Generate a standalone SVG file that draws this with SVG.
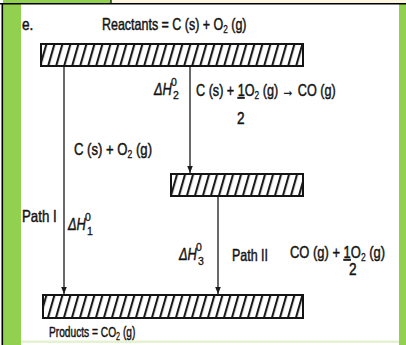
<svg xmlns="http://www.w3.org/2000/svg" width="406" height="345" viewBox="0 0 406 345">
<defs>
<pattern id="hatch" patternUnits="userSpaceOnUse" width="8" height="40" patternTransform="skewX(-16)">
<rect x="0" y="0" width="8" height="40" fill="#fff"/>
<rect x="2" y="0" width="2.2" height="40" fill="#1a1a1a"/>
</pattern>
<marker id="arr" viewBox="0 0 10 10" refX="10" refY="5" markerWidth="7" markerHeight="7" orient="auto" markerUnits="userSpaceOnUse">
<path d="M0,1 L10,5 L0,9 Z" fill="#1a1a1a"/>
</marker>
<style>
.t{font-family:"Liberation Sans",Arial,sans-serif;font-size:16px;fill:#141414;stroke:#141414;stroke-width:0.45}
.s{font-size:10.5px;stroke-width:0.3}
.bar{fill:url(#hatch);stroke:#141414;stroke-width:2}
.ln{stroke:#1a1a1a;stroke-width:1.3;fill:none}
.it{font-style:italic}
</style>
</defs>
<rect width="406" height="345" fill="#fff"/>
<rect x="111" y="0" width="295" height="3.5" fill="#fdf6e1"/>
<rect x="3" y="0" width="108" height="3.5" fill="#92d050"/>
<rect x="3" y="3.5" width="18" height="341.5" fill="#92d050"/>
<rect x="399" y="3.5" width="7" height="341.5" fill="#92d050"/>
<rect x="21" y="340.5" width="378" height="2.5" fill="#e4f2d2"/>
<line x1="0" y1="3.7" x2="406" y2="3.7" stroke="#000" stroke-width="1.4"/>
<line x1="111" y1="0" x2="111" y2="3.7" stroke="#000" stroke-width="1.2"/>
<line x1="2.3" y1="3" x2="2.3" y2="345" stroke="#000" stroke-width="1.6"/>

<g id="connectors">
<line class="ln" x1="64" y1="66" x2="64" y2="294" marker-end="url(#arr)"/>
<line class="ln" x1="190" y1="66" x2="190" y2="173" marker-end="url(#arr)"/>
<line class="ln" x1="218" y1="196" x2="218" y2="294" marker-end="url(#arr)"/>
</g>

<g id="reactants">
<rect class="bar" x="41" y="44" width="262" height="22"/>
<text class="t" transform="translate(102,30) scale(0.78,1)">Reactants = C (s) + O<tspan class="s" dy="3">2</tspan><tspan dy="-3"> (g)</tspan></text>
</g>

<g id="intermediate">
<rect class="bar" x="171" y="174" width="132" height="22"/>
</g>

<g id="products">
<rect class="bar" x="43" y="295" width="260" height="23"/>
<text class="t" style="font-size:15px" transform="translate(49,337) scale(0.68,1)">Products = CO<tspan class="s" dy="3">2</tspan><tspan dy="-3"> (g)</tspan></text>
</g>

<g id="labels">
<text class="t" transform="translate(22,30) scale(0.85,1)">e.</text>

<text class="t it" transform="translate(154,95) scale(0.8,1)">ΔH</text>
<text class="t s" x="171" y="86">0</text>
<text class="t s" x="173" y="99">2</text>
<text class="t" transform="translate(196,96) scale(0.79,1)">C (s) + <tspan text-decoration="underline">1</tspan>O<tspan class="s" dy="3">2</tspan><tspan dy="-3"> (g) → CO (g)</tspan></text>
<text class="t" transform="translate(237,124) scale(0.85,1)">2</text>

<text class="t" transform="translate(74,155) scale(0.82,1)">C (s) + O<tspan class="s" dy="3">2</tspan><tspan dy="-3"> (g)</tspan></text>

<text class="t" transform="translate(22,222) scale(0.83,1)">Path I</text>
<text class="t it" transform="translate(68,230) scale(0.8,1)">ΔH</text>
<text class="t s" x="85" y="221">0</text>
<text class="t s" x="87" y="235">1</text>

<text class="t it" transform="translate(179,260) scale(0.8,1)">ΔH</text>
<text class="t s" x="196" y="251">0</text>
<text class="t s" x="198" y="265">3</text>
<text class="t" transform="translate(232,261) scale(0.78,1)">Path II</text>

<text class="t" transform="translate(290,258) scale(0.81,1)">CO (g) + <tspan text-decoration="underline">1</tspan>O<tspan class="s" dy="3">2</tspan><tspan dy="-3"> (g)</tspan></text>
<text class="t" transform="translate(349,275) scale(0.85,1)">2</text>
</g>
</svg>
